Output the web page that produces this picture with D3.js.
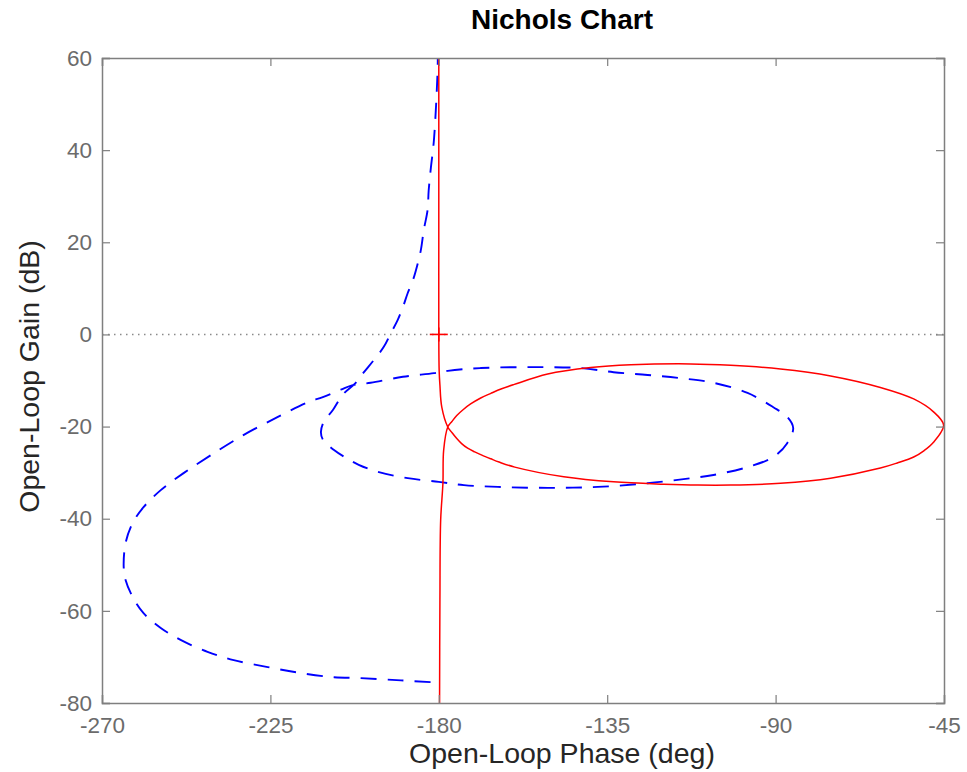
<!DOCTYPE html>
<html>
<head>
<meta charset="utf-8">
<script src="https://cdn.jsdelivr.net/npm/d3@7"></script>
<style>
  html, body { margin: 0; padding: 0; background: #fff; }
  svg { display: block; font-family: "Liberation Sans", Arial, Helvetica, sans-serif; }
</style>
</head>
<body>
<div id="chart"></div>
<script>
// ---- data (phase in deg, gain in dB) ----
const xTicks = [-270, -225, -180, -135, -90, -45];
const yTicks = [60, 40, 20, 0, -20, -40, -60, -80];

const redPhase = [-180.0, -180.0, -180.0, -180.0, -179.9, -179.7, -179.2, -177.6,
  -176.5, -175.2, -173.9, -172.3, -170.4, -168.5, -166.1, -163.9, -159.7, -146.6, -133.3, -119.9, -110.8, -102.0,
  -88.7, -75.3, -62.0, -57.5, -53.1, -50.3, -47.8, -45.1,
  -47.8, -53.1, -62.0, -75.3, -88.7, -102.0, -112.7, -128.7, -139.4, -150.9,
  -160.0, -163.2, -166.1, -168.8, -171.5, -173.6, -175.2, -176.5, -177.6,
  -178.7, -178.9, -179.5, -179.7, -179.8];
const redGain = [62, 40, 20, 0, -8, -11, -15.8, -20.1,
  -21.3, -22.6, -23.7, -24.7, -25.5, -26.2, -27.0, -27.7, -28.8, -30.9, -32.0, -32.5, -32.7, -32.7,
  -32.3, -31.2, -29.0, -27.9, -26.6, -25.2, -23.4, -19.7,
  -16.8, -14.0, -11.5, -9.0, -7.5, -6.7, -6.4, -6.6, -7.2, -8.6,
  -10.9, -11.8, -12.8, -13.8, -15.1, -16.4, -17.6, -18.9, -20.1,
  -25.1, -32.3, -40.3, -57.6, -82];

const bluePhase = [-180.3, -180.3, -181.3, -182.1, -182.7, -183.0, -184.0, -184.8, -185.6, -186.9, -188.3,
  -189.6, -191.0, -192.8, -194.7, -197.4, -200.0, -202.2, -205.6, -208.3, -210.7, -211.5, -211.0, -208.0,
  -204.8, -201.4, -196.0, -188.3, -180.0, -173.3, -164.2, -150.9, -137.5, -124.2, -112.7, -106.6, -97.5,
  -90.6, -86.9, -85.3, -86.9, -90.6, -97.5, -106.6, -115.4, -124.2, -133.3, -142.1, -155.4, -168.8, -177.6,
  -181.3, -189.6, -198.2, -203.0, -206.2, -211.0, -215.0, -223.0, -232.1, -240.9, -248.2, -254.3, -258.9,
  -261.8, -263.7, -264.2, -263.7, -261.8, -258.9, -254.3, -249.0, -241.8, -234.8, -225.7, -216.9, -208.0,
  -200.8, -190.1, -181.3, -180.3];
const blueGain = [62, 58.0, 42.2, 36.3, 31.3, 27.0, 22.7, 18.3, 15.5, 11.8, 9.0,
  5.9, 3.1, 0.3, -2.7, -5.6, -8.2, -10.5, -13.0, -16.4, -18.9, -21.2, -22.8, -25.1,
  -26.8, -28.3, -29.9, -31.2, -32.0, -32.7, -33.1, -33.3, -33.1, -32.3, -31.2, -30.5, -28.8,
  -26.6, -23.6, -20.3, -17.9, -15.8, -12.7, -10.5, -9.5, -8.8, -8.2, -7.3, -7.1, -7.3, -7.9,
  -8.4, -9.2, -10.5, -11.0, -12.0, -13.6, -14.7, -17.9, -21.8, -26.2, -30.1, -33.8, -37.5,
  -40.9, -45.3, -50.5, -53.3, -57.0, -60.5, -63.7, -66.3, -68.9, -70.7, -72.2, -73.5, -74.4,
  -74.6, -75.1, -75.5, -75.5];

const markerPhase = [-180];
const markerGain = [0];

// ---- layout ----
const W = 967, H = 772;
const pLeft = 102, pRight = 944, pTop = 58, pBottom = 703;

const svg = d3.select("#chart").append("svg").attr("width", W).attr("height", H);

const x = d3.scaleLinear().domain([-270, -45]).range([pLeft, pRight]);
const y = d3.scaleLinear().domain([-80, 60]).range([pBottom, pTop]);

svg.append("defs").append("clipPath").attr("id", "clip")
  .append("rect").attr("x", pLeft).attr("y", pTop).attr("width", pRight - pLeft).attr("height", pBottom - pTop);

const axisColor = "#7f7f7f";
const tickText = "#6b6b6b";

// 0 dB dotted line
svg.append("line")
  .attr("x1", x(-270)).attr("x2", x(-45)).attr("y1", y(0)).attr("y2", y(0))
  .attr("stroke", "#8a8a8a").attr("stroke-width", 1.5).attr("stroke-dasharray", "1.5,4.5");

const g = svg.append("g").attr("clip-path", "url(#clip)");
const line = d3.line().x(d => x(d[0])).y(d => y(d[1])).curve(d3.curveCatmullRom.alpha(0.5));

g.append("path")
  .datum(bluePhase.map((p, i) => [p, blueGain[i]]))
  .attr("d", line).attr("fill", "none").attr("stroke", "#0000ff")
  .attr("stroke-width", 1.9).attr("stroke-dasharray", "16,11");

g.append("path")
  .datum(redPhase.map((p, i) => [p, redGain[i]]))
  .attr("d", line).attr("fill", "none").attr("stroke", "#ff0000")
  .attr("stroke-width", 1.5);

// marker +
markerPhase.forEach((p, i) => {
  const cx = x(p), cy = y(markerGain[i]), s = 9;
  g.append("line").attr("x1", cx - s).attr("x2", cx + s).attr("y1", cy).attr("y2", cy)
    .attr("stroke", "#ff0000").attr("stroke-width", 1.6);
  g.append("line").attr("x1", cx).attr("x2", cx).attr("y1", cy - 7).attr("y2", cy + 7)
    .attr("stroke", "#ff0000").attr("stroke-width", 1.6);
});

// axes
const tickLen = 8;
const fmt = d => String(d);
const xAxisB = d3.axisBottom(x).tickValues(xTicks).tickSize(-tickLen).tickPadding(14).tickFormat(fmt);
const xAxisT = d3.axisTop(x).tickValues(xTicks).tickSize(-tickLen).tickFormat("");
const yAxisL = d3.axisLeft(y).tickValues(yTicks).tickSize(-tickLen).tickPadding(10).tickFormat(fmt);
const yAxisR = d3.axisRight(y).tickValues(yTicks).tickSize(-tickLen).tickFormat("");

function style(sel) {
  sel.selectAll("path.domain").attr("stroke", axisColor).attr("stroke-width", 1.5);
  sel.selectAll(".tick line").attr("stroke", axisColor).attr("stroke-width", 1.2);
  sel.selectAll(".tick text").attr("fill", tickText).style("font-size", "22.5px")
    .style("font-family", '"Liberation Sans", Arial, sans-serif');
}
svg.append("g").attr("transform", `translate(0,${pBottom})`).call(xAxisB).call(style);
svg.append("g").attr("transform", `translate(0,${pTop})`).call(xAxisT).call(style);
svg.append("g").attr("transform", `translate(${pLeft},0)`).call(yAxisL).call(style);
svg.append("g").attr("transform", `translate(${pRight},0)`).call(yAxisR).call(style);

// labels
svg.append("text").attr("x", 562).attr("y", 29).attr("text-anchor", "middle")
  .style("font-size", "28px").style("font-weight", "bold").attr("fill", "#000")
  .text("Nichols Chart");
svg.append("text").attr("x", 562).attr("y", 763).attr("text-anchor", "middle")
  .style("font-size", "28.5px").attr("fill", "#262626")
  .text("Open-Loop Phase (deg)");
svg.append("text").attr("transform", `translate(39,${(pTop + pBottom) / 2 - 4}) rotate(-90)`)
  .attr("text-anchor", "middle")
  .style("font-size", "28.5px").attr("fill", "#262626")
  .text("Open-Loop Gain (dB)");
</script>
</body>
</html>
